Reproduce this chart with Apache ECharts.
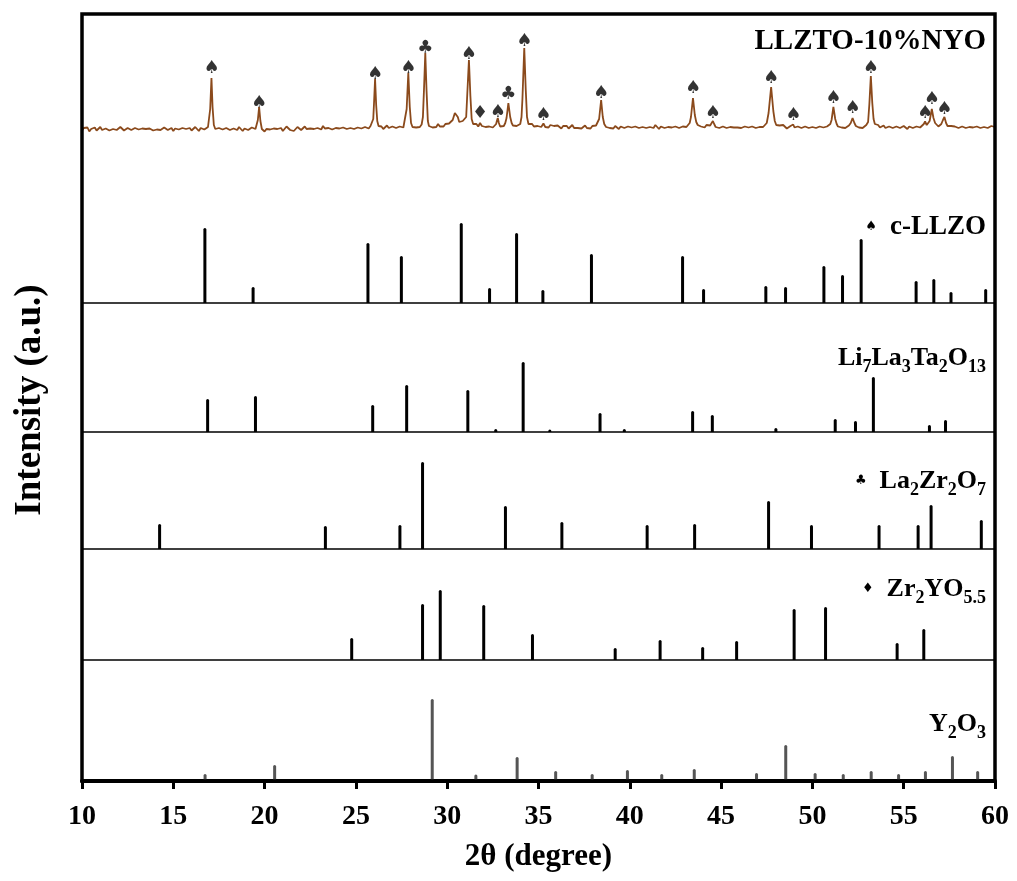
<!DOCTYPE html>
<html><head><meta charset="utf-8">
<script src="https://cdn.jsdelivr.net/npm/echarts@6/dist/echarts.min.js"></script>
<style>html,body{margin:0;padding:0;background:#fff}#c{width:1017px;height:881px}</style>
</head><body><div id="c"></div>
<script>
// ---------- DATA ----------
const xTicks = [10, 15, 20, 25, 30, 35, 40, 45, 50, 55, 60];

// measured XRD pattern of LLZTO-10%NYO: [2theta, intensity (a.u.)]
const patternPoints = [
[10.0,-1.5],[10.1,1],[10.2,-0.5],[10.3,1.5],[10.4,-2.5],[10.5,0],[10.6,-1],[10.7,1.5],[10.8,-1.5],[10.9,0.5],
[11.0,2],[11.1,-1],[11.2,-2],[11.3,0.5],[11.4,1],[11.5,-1.5],[11.6,-2.5],[11.7,0],[11.8,1.5],[11.9,-1],
[12.0,-0.5],[12.1,2],[12.2,0],[12.3,-1.5],[12.4,-2],[12.5,1],[12.6,0],[12.7,-1],[12.8,-2.5],[12.9,1],
[13.0,1.5],[13.1,-0.5],[13.2,-1.5],[13.3,0.5],[13.4,2],[13.5,0],[13.6,-2],[13.7,0.5],[13.8,1],[13.9,-1.5],
[14.0,-3],[14.1,-0.5],[14.2,1],[14.3,-1],[14.4,-0.5],[14.5,1.5],[14.6,2],[14.7,-1],[14.8,0],[14.9,1],
[15.0,-2],[15.1,0.5],[15.2,1.5],[15.3,-0.5],[15.4,-2],[15.5,1],[15.6,2.5],[15.7,0],[15.8,-1],[15.9,1],
[16.0,-1.5],[16.1,0.5],[16.2,2],[16.3,0],[16.4,-2],[16.5,1],[16.6,1.5],[16.7,-0.5],[16.8,0.5],[16.9,2],
[16.97,4],[17.02,20],[17.09,51],[17.15,22],[17.22,4],[17.3,0],[17.4,-2],[17.5,1],[17.6,2],[17.7,-0.5],
[17.8,-1.5],[17.9,1],[18.0,1.5],[18.1,-1],[18.2,-2.5],[18.3,0.5],[18.4,0],[18.5,-1],[18.6,2],[18.7,0],
[18.8,-2],[18.9,0.5],[19.0,1],[19.1,-1],[19.2,-1.5],[19.3,1.5],[19.4,2],[19.5,0],[19.56,1.5],[19.63,9],
[19.70,22],[19.77,8],[19.85,0],[19.95,-1],[20.0,-2.5],[20.1,0],[20.2,1.5],[20.3,-0.5],[20.4,-2],[20.5,0.5],
[20.6,2],[20.7,0],[20.8,-1],[20.9,1],[21.0,-2],[21.1,0],[21.2,2.5],[21.3,0.5],[21.4,-1],[21.5,1],
[21.6,-2],[21.7,0],[21.8,2],[21.9,0.5],[22.0,-1],[22.1,1],[22.2,2.5],[22.3,0],[22.4,-1.5],[22.5,0.5],
[22.6,2],[22.7,0],[22.8,-2],[22.9,1],[23.0,1.5],[23.1,-0.5],[23.2,3],[23.3,0.5],[23.4,-1],[23.5,1],
[23.6,2],[23.7,-0.5],[23.8,-1.5],[23.9,1],[24.0,2.5],[24.1,0.5],[24.2,-1],[24.3,1.5],[24.4,2],[24.5,0],
[24.6,-1.5],[24.7,1],[24.8,2],[24.9,0],[25.0,-0.5],[25.1,1.5],[25.2,3],[25.3,0.5],[25.4,0],[25.5,2],
[25.6,2.5],[25.7,0.5],[25.8,3],[25.9,4],[25.95,10],[25.99,25],[26.05,50],[26.11,24],[26.17,8],[26.24,3],
[26.3,1],[26.4,2.5],[26.5,0],[26.6,2],[26.7,3.5],[26.8,1],[26.9,0],[27.0,2.5],[27.1,3],[27.2,1],
[27.3,0.5],[27.4,2.5],[27.5,4],[27.6,1.5],[27.7,3.5],[27.78,20],[27.87,56],[27.95,22],[28.02,6],[28.1,2],
[28.2,4],[28.3,1.5],[28.4,3],[28.5,2],[28.6,4.5],[28.67,12],[28.73,40],[28.80,76],[28.87,38],[28.94,8],
[29.0,3],[29.1,4.5],[29.2,1.5],[29.3,3],[29.4,2],[29.5,5],[29.6,2.5],[29.7,4],[29.8,2.5],[29.9,5],
[30.0,3.5],[30.1,5.5],[30.2,6],[30.3,9],[30.42,16],[30.49,18],[30.58,12],[30.66,7],[30.75,5],[30.85,8],
[30.95,6],[31.04,12],[31.1,35],[31.19,69],[31.27,33],[31.34,10],[31.42,5],[31.5,3],[31.6,5],[31.7,2.5],
[31.8,6],[31.9,3],[32.0,4.5],[32.1,2],[32.2,4],[32.3,2.5],[32.4,4],[32.5,1.5],[32.6,3.5],[32.68,5],
[32.72,8],[32.77,11],[32.83,6],[32.9,2.5],[33.0,4.5],[33.1,3],[33.18,6],[33.25,11],[33.35,26],[33.45,12],
[33.53,6],[33.6,3.5],[33.7,5],[33.8,3],[33.9,5],[34.0,5],[34.07,12],[34.12,30],[34.22,81],[34.3,40],
[34.37,12],[34.45,5],[34.55,3],[34.65,5],[34.75,2.5],[34.85,4.5],[34.95,3],[35.05,4.5],[35.15,2],[35.27,5.5],
[35.37,2],[35.45,3.5],[35.55,1.5],[35.65,4],[35.75,2],[35.85,3],[35.95,1],[36.05,3.5],[36.15,2],[36.25,0.5],
[36.35,3],[36.45,1.5],[36.55,3],[36.65,0.5],[36.75,2.5],[36.85,4],[36.95,1],[37.05,2.5],[37.15,1],[37.25,3],
[37.35,0.5],[37.45,2],[37.55,3.5],[37.65,1],[37.75,2.5],[37.85,0.5],[37.95,3],[38.05,2],[38.15,3.5],[38.25,4],
[38.32,10],[38.43,29],[38.52,12],[38.6,5],[38.7,2],[38.8,3.5],[38.9,1],[39.0,2.5],[39.1,0.5],[39.2,3],
[39.3,1.5],[39.4,0],[39.5,2.5],[39.6,3],[39.7,1],[39.8,0],[39.9,2.5],[40.0,4],[40.1,1.5],[40.2,0],
[40.3,2.5],[40.4,3],[40.5,1],[40.6,-0.5],[40.7,2],[40.8,3.5],[40.9,1],[41.0,0],[41.1,2],[41.2,3],
[41.3,1],[41.4,4],[41.5,2],[41.6,0],[41.7,2.5],[41.8,3],[41.9,1],[42.0,-0.5],[42.1,2],[42.2,3.5],
[42.3,1.5],[42.4,0],[42.5,2.5],[42.6,3],[42.7,1],[42.8,0],[42.9,2.5],[43.0,3.5],[43.1,2],[43.2,4],
[43.28,6],[43.35,12],[43.46,31],[43.56,14],[43.64,7],[43.72,4],[43.8,5],[43.9,2.5],[44.0,3],[44.1,1.5],
[44.2,4],[44.3,2],[44.4,3.5],[44.48,5],[44.55,8],[44.62,5],[44.7,2],[44.8,3],[44.9,1],[45.0,0.5],
[45.1,2.5],[45.2,3.5],[45.3,1],[45.4,0],[45.5,2],[45.6,3],[45.7,1.5],[45.8,-0.5],[45.9,1.5],[46.0,3],
[46.1,1],[46.2,0],[46.3,2.5],[46.4,4],[46.5,1.5],[46.6,0.5],[46.7,2.5],[46.8,3],[46.9,1],[47.0,0],
[47.1,2],[47.2,3.5],[47.3,2],[47.4,4],[47.5,6],[47.6,16],[47.74,42],[47.86,18],[47.94,8],[48.02,4],
[48.1,2],[48.2,3.5],[48.3,1.5],[48.4,4],[48.5,2],[48.6,0.5],[48.7,2.5],[48.8,3],[48.88,2],[48.95,4.5],
[49.02,1.5],[49.1,0.5],[49.2,2.5],[49.3,3.5],[49.4,1],[49.5,0],[49.6,2.5],[49.7,3],[49.8,1],[49.9,-0.5],
[50.0,2],[50.1,3],[50.2,1],[50.3,0],[50.4,2.5],[50.5,3.5],[50.6,1.5],[50.7,0.5],[50.8,2.5],[50.9,4],
[50.98,5],[51.05,9],[51.15,22],[51.25,10],[51.33,5],[51.4,2.5],[51.5,3.5],[51.6,1.5],[51.7,3],[51.8,1],
[51.9,2.5],[52.0,3.5],[52.1,6],[52.2,11],[52.3,6],[52.38,3],[52.45,4],[52.55,1.5],[52.65,3],[52.75,1],
[52.85,2.5],[52.95,4],[53.05,7],[53.12,25],[53.2,53],[53.28,26],[53.35,10],[53.42,5],[53.5,3],[53.6,4],
[53.7,1.5],[53.8,2.5],[53.9,3.5],[54.0,1],[54.1,0],[54.2,2.5],[54.3,3.5],[54.4,1],[54.5,0],[54.6,2.5],
[54.7,3],[54.8,1],[54.9,0.5],[55.0,3],[55.1,1.5],[55.2,0],[55.3,2.5],[55.4,3.5],[55.5,1],[55.6,0.5],
[55.7,2.5],[55.8,3.5],[55.9,1.5],[56.0,2.5],[56.1,5],[56.17,7.5],[56.26,4],[56.34,4.5],[56.42,8],[56.54,20],
[56.63,11],[56.72,6],[56.8,4],[56.9,2.5],[56.98,3.5],[57.06,5],[57.15,9],[57.23,12],[57.32,6],[57.4,3],
[57.5,1.5],[57.6,3],[57.7,1],[57.8,2.5],[57.9,3.5],[58.0,1],[58.1,0],[58.2,2.5],[58.3,3],[58.4,1],
[58.5,0],[58.6,2],[58.7,3.5],[58.8,1.5],[58.9,0.5],[59.0,2.5],[59.1,3],[59.2,1],[59.3,0],[59.4,2],
[59.5,3.5],[59.6,1],[59.7,2],[59.8,3],[59.9,1],[60.0,2]
];

// phase markers above peaks: [2theta, height, symbol]
const peakMarkers = [
[17.09,61,'♠'],[19.70,26,'♠'],[26.05,55,'♠'],[27.87,61,'♠'],[28.80,81,'♣'],[31.19,75,'♠'],
[31.80,16,'♦'],[32.77,17,'♠'],[33.35,35,'♣'],[34.22,88,'♠'],[35.27,14,'♠'],[38.43,36,'♠'],
[43.46,41,'♠'],[44.55,16,'♠'],[47.74,51,'♠'],[48.95,14,'♠'],[51.15,31,'♠'],[52.20,21,'♠'],
[53.20,61,'♠'],[56.17,16,'♠'],[56.54,30,'♠'],[57.23,20,'♠']
];

// reference patterns: [2theta, relative intensity]
const cLLZO = [[16.73,75],[19.37,16],[25.66,60],[27.49,47],[30.77,80],[32.32,15],[33.80,70],[35.24,13],
[37.90,49],[42.89,47],[44.04,14],[47.45,17],[48.53,16],[50.63,37],[51.65,28],[52.67,64],[55.68,22],
[56.65,24],[57.59,11],[59.49,14]];
const li7La3Ta2O13 = [[16.88,33],[19.50,36],[25.92,27],[27.78,47],[31.13,42],[32.66,3],[34.16,70],
[35.62,2.5],[38.37,19],[39.70,3],[43.44,21],[44.52,17],[48.00,4],[51.25,13],[52.36,11],[53.34,55],
[56.41,7],[57.29,12]];
const la2Zr2O7 = [[14.25,25],[23.33,23],[27.41,24],[28.65,87],[33.19,43],[36.28,27],[40.95,24],
[43.55,25],[47.60,48],[49.95,24],[53.65,24],[55.79,24],[56.50,44],[59.25,29]];
const zr2YO55 = [[24.77,22],[28.65,56],[29.62,70],[32.00,55],[34.67,26],[39.20,12],[41.66,20],
[43.99,13],[45.85,19],[49.00,51],[50.72,53],[54.64,17],[56.10,31]];
const y2O3 = [[16.74,7],[20.55,16],[29.18,82],[31.57,6.5],[33.83,24],[35.94,10],[37.94,7],[39.87,11],
[41.75,7],[43.53,12],[46.94,8],[48.54,36],[50.15,8],[51.69,7],[53.22,10],[54.72,7],[56.19,10],
[57.67,25],[59.05,10]];

const xName = '2θ (degree)';
const yName = 'Intensity (a.u.)';

// ---------- LAYOUT / STYLE ----------
const SERIF = "'Liberation Serif','Times New Roman',serif";
const L = 82, R = 22;
const panels = [            // top px, height px, y-range
  {top:14,  height:130, ymin:-15, ymax:115},  // measured pattern
  {top:143, height:160, ymin:0, ymax:160},    // c-LLZO
  {top:303, height:129, ymin:0, ymax:129},    // Li7La3Ta2O13
  {top:432, height:117, ymin:0, ymax:117},    // La2Zr2O7
  {top:549, height:111, ymin:0, ymax:111},    // Zr2YO5.5
  {top:660, height:121, ymin:0, ymax:121}     // Y2O3
];

const grid = [{left:L, right:R, top:14, bottom:100, show:true, borderColor:'#000', borderWidth:3.5, backgroundColor:'transparent', z:10}];
panels.forEach(p => grid.push({left:L, right:R, top:p.top, height:p.height}));

const xMin = xTicks[0], xMax = xTicks[xTicks.length-1], xInt = xTicks[1]-xTicks[0];
const xAxis = [], yAxis = [];
xAxis.push({gridIndex:0, type:'value', min:xMin, max:xMax, interval:xInt, show:false});
yAxis.push({gridIndex:0, type:'value', min:0, max:1, show:false});
panels.forEach((p, i) => {
  const gi = i + 1;
  const isBottom = i === panels.length - 1;
  const isSep = i >= 1 && !isBottom;
  const ax = {gridIndex:gi, type:'value', min:xMin, max:xMax, interval:xInt,
    splitLine:{show:false}, axisTick:{show:false}, axisLabel:{show:false},
    axisLine:{show:isSep, onZero:false, lineStyle:{color:'#000', width:1.5}}};
  if (i === 0) ax.show = false;
  if (isBottom) {
    ax.axisLine = {show:true, onZero:false, lineStyle:{color:'#000', width:4}};
    ax.axisTick = {show:true, inside:false, length:8, lineStyle:{color:'#000', width:3}};
    ax.axisLabel = {show:true, color:'#000', fontFamily:SERIF, fontWeight:'bold', fontSize:28, margin:22};
    ax.name = xName; ax.nameLocation = 'middle'; ax.nameGap = 60;
    ax.nameTextStyle = {color:'#000', fontFamily:SERIF, fontWeight:'bold', fontSize:31};
  }
  xAxis.push(ax);
  yAxis.push({gridIndex:gi, type:'value', min:p.ymin, max:p.ymax, show:false});
});

function sticks(idx, data, color) {
  return {type:'bar', xAxisIndex:idx, yAxisIndex:idx, data:data, barWidth:3,
    itemStyle:{color:color, borderRadius:[1.5,1.5,0,0]}, silent:true};
}

const series = [
  {type:'line', xAxisIndex:1, yAxisIndex:1, data:patternPoints, showSymbol:false, symbol:'none',
   lineStyle:{color:'#8b4a1c', width:1.8}, silent:true},
  {type:'scatter', xAxisIndex:1, yAxisIndex:1, symbolSize:0.1, itemStyle:{color:'transparent'},
   data:peakMarkers.map(m => ({name:m[2], value:[m[0], m[1]]})),
   label:{show:true, position:'inside', formatter:'{b}', color:'#000', fontFamily:'DejaVu Sans', fontSize:18}, silent:true},
  sticks(2, cLLZO, '#000'),
  sticks(3, li7La3Ta2O13, '#000'),
  sticks(4, la2Zr2O7, '#000'),
  sticks(5, zr2YO55, '#000'),
  sticks(6, y2O3, '#555')
];

function richFor(size) {
  return {
    a:{fontFamily:SERIF, fontWeight:'bold', fontSize:size, lineHeight:36, verticalAlign:'middle', fill:'#000'},
    s:{fontFamily:SERIF, fontWeight:'bold', fontSize:18, lineHeight:18, verticalAlign:'bottom', fill:'#000'},
    m:{fontFamily:'DejaVu Sans', fontSize:13, lineHeight:36, verticalAlign:'middle', fill:'#000'}
  };
}
function label(text, y, size) {
  return {type:'text', x:986, y:y, z:20, silent:true,
    style:{text:text, align:'right', verticalAlign:'middle', rich:richFor(size || 26),
      font:"bold 26px " + SERIF, fill:'#000'}};
}

const graphic = [
  {type:'text', x:986, y:42, z:20, silent:true,
   style:{text:'LLZTO-10%NYO', align:'right', verticalAlign:'middle', font:"bold 29px " + SERIF, fill:'#000'}},
  label('{m|♠}  {a|c-LLZO}', 227, 27),
  label('{a|Li}{s|7}{a|La}{s|3}{a|Ta}{s|2}{a|O}{s|13}', 358),
  label('{m|♣}  {a|La}{s|2}{a|Zr}{s|2}{a|O}{s|7}', 481),
  label('{m|♦}  {a|Zr}{s|2}{a|YO}{s|5.5}', 589),
  label('{a|Y}{s|2}{a|O}{s|3}', 724),
  {type:'text', x:30, y:400, rotation:Math.PI/2, z:20, silent:true,
   style:{text:yName, align:'center', verticalAlign:'middle', font:"bold 37px " + SERIF, fill:'#000'}}
];

const chart = echarts.init(document.getElementById('c'), null, {renderer:'canvas'});
chart.setOption({animation:false, backgroundColor:'#fff', grid, xAxis, yAxis, series, graphic});
</script></body></html>
